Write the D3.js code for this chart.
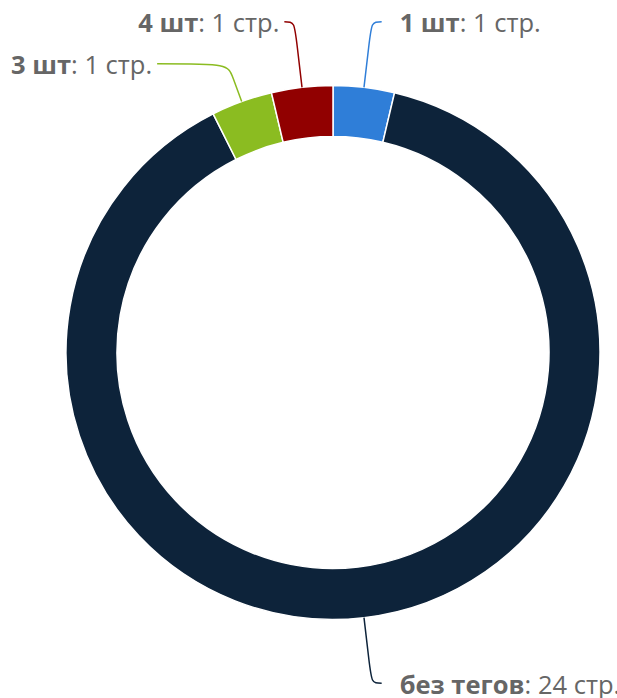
<!DOCTYPE html>
<html>
<head>
<meta charset="utf-8">
<script src="https://cdn.jsdelivr.net/npm/d3@7"></script>
<style>
  body { margin: 0; background: #fff; }
  text { font-family: "Open Sans", sans-serif; }
</style>
</head>
<body>
<div id="chart"></div>
<script>
// data, in drawing order (clockwise from 12 o'clock)
const names = ["1 шт", "без тегов", "3 шт", "4 шт"];
const pages = [1, 24, 1, 1];
const colors = ["#2f7ed8", "#0d233a", "#8bbc21", "#910000"];
const unit = " стр.";

const width = 617, height = 698;
const cx = 333, cy = 352.5;
const outerR = 267, innerR = 216;
const labelR = 333, labelShift = 10, minGap = 42;

const svg = d3.select("#chart").append("svg")
  .attr("width", width)
  .attr("height", height);

const pie = d3.pie().sort(null).value(d => d.value);
const arc = d3.arc().innerRadius(innerR).outerRadius(outerR);

const data = names.map((n, i) => ({ name: n, value: pages[i], color: colors[i] }));
const arcs = pie(data);

const g = svg.append("g").attr("transform", `translate(${cx},${cy})`);

g.selectAll("path.slice")
  .data(arcs)
  .join("path")
  .attr("class", "slice")
  .attr("d", arc)
  .attr("fill", d => d.data.color)
  .attr("stroke", "#fff")
  .attr("stroke-width", 1.5)
  .attr("stroke-linejoin", "round");

// label layout (roughly like the soft connectors of the original)
const polar = (r, a) => [r * Math.sin(a), -r * Math.cos(a)];
const labels = arcs.map(d => {
  const a = (d.startAngle + d.endAngle) / 2;
  const left = Math.sin(a) < 0;
  const [, ly] = polar(labelR, a);
  return { d, a, left, y: ly };
});

[true, false].forEach(side => {
  const list = labels.filter(l => l.left === side).sort((p, q) => p.y - q.y);
  for (let i = 1; i < list.length; i++) {
    if (list[i].y < list[i - 1].y + minGap) list[i].y = list[i - 1].y + minGap;
  }
});

labels.forEach(l => {
  const dx = Math.sqrt(Math.max(0, labelR * labelR - l.y * l.y)) + labelShift;
  l.x = l.left ? -dx : dx;
  const base = polar(outerR, l.a);
  // point on the radial line at the label's height
  const t = (l.y - base[1]) / (-Math.cos(l.a));
  const corner = [base[0] + t * Math.sin(l.a), l.y];
  const brk = [corner[0] + (base[0] - corner[0]) * 0.4, corner[1] + (base[1] - corner[1]) * 0.4];
  l.path = `M${l.x},${l.y}C${corner[0]},${corner[1]} ${corner[0]},${corner[1]} ${brk[0]},${brk[1]}L${base[0]},${base[1]}`;
});

g.selectAll("path.connector")
  .data(labels)
  .join("path")
  .attr("class", "connector")
  .attr("d", l => l.path)
  .attr("fill", "none")
  .attr("stroke", l => l.d.data.color)
  .attr("stroke-width", 1.5);

const txt = g.selectAll("text.label")
  .data(labels)
  .join("text")
  .attr("class", "label")
  .attr("x", l => l.left ? l.x - 5 : l.x + 18)
  .attr("y", l => l.y)
  .attr("dy", "0.42em")
  .attr("text-anchor", l => l.left ? "end" : "start")
  .attr("font-size", 25.5)
  .attr("fill", "#666");

txt.append("tspan").attr("font-weight", "bold").text(l => l.d.data.name);
txt.append("tspan").text(l => ": " + l.d.data.value + unit);
</script>
</body>
</html>
